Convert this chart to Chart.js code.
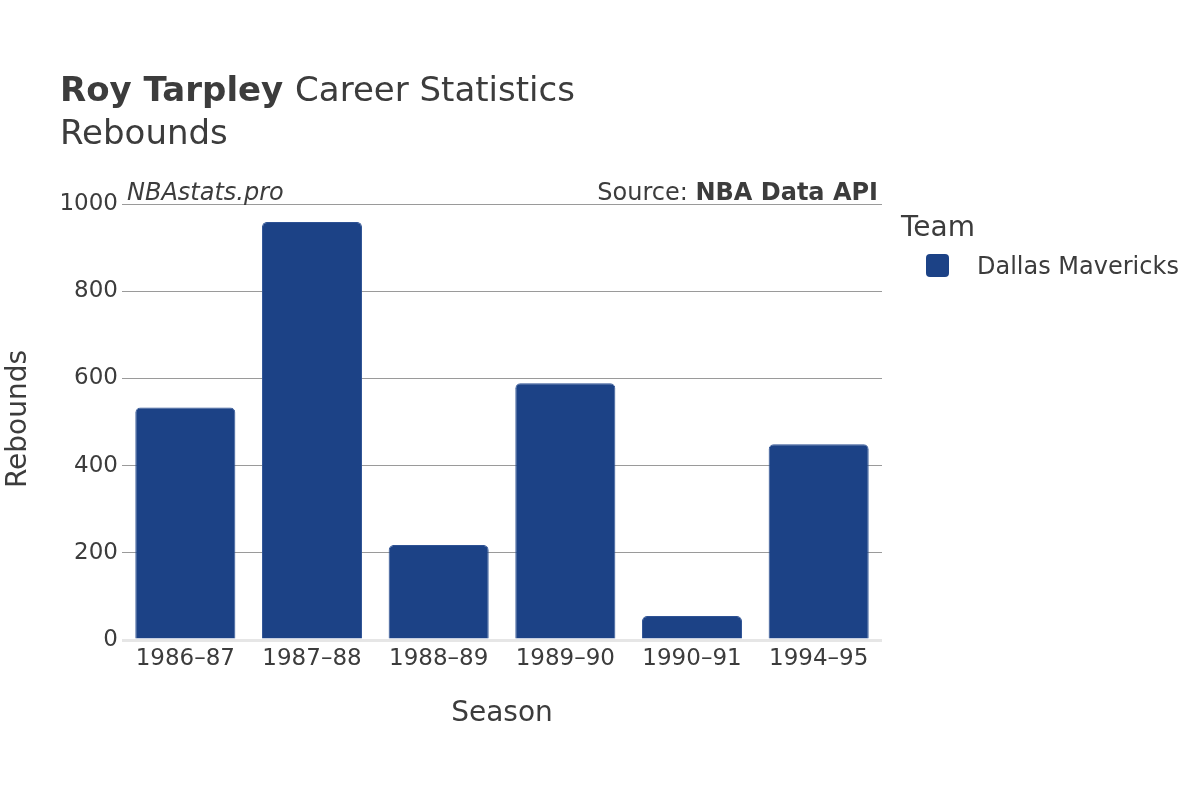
<!DOCTYPE html>
<html>
<head>
<meta charset="utf-8">
<script src="https://cdn.jsdelivr.net/npm/chart.js@4.4.0/dist/chart.umd.min.js"></script>
<style>
  html, body { margin: 0; padding: 0; background: #fff; }
  canvas { display: block; }
</style>
</head>
<body>
<canvas id="chart" width="1200" height="800"></canvas>
<script>
'use strict';

const seasons = ['1986–87', '1987–88', '1988–89', '1989–90', '1990–91', '1994–95'];
const rebounds = [533, 959, 218, 589, 55, 449];
const yTicks = [0, 200, 400, 600, 800, 1000];
const teamName = 'Dallas Mavericks';
const teamColor = '#1c4286';

const FONT = '"DejaVu Sans", sans-serif';
const TEXT = '#3c3c3c';

// titles, watermark, source, legend and axis titles
const decorations = {
  id: 'decorations',
  afterDraw(chart) {
    const ctx = chart.ctx;
    const area = chart.chartArea;
    ctx.save();
    ctx.fillStyle = TEXT;
    ctx.textBaseline = 'alphabetic';

    ctx.textAlign = 'left';
    ctx.font = 'bold 34px ' + FONT;
    ctx.fillText('Roy Tarpley', 60, 101);
    let w = ctx.measureText('Roy Tarpley ').width;
    ctx.font = '34px ' + FONT;
    ctx.fillText('Career Statistics', 60 + w, 101);
    ctx.fillText('Rebounds', 60, 144);

    ctx.font = 'italic 24px ' + FONT;
    ctx.fillText('NBAstats.pro', 127, 200);

    ctx.textAlign = 'right';
    ctx.font = 'bold 24px ' + FONT;
    ctx.fillText('NBA Data API', 878, 200);
    w = ctx.measureText('NBA Data API').width;
    ctx.font = '24px ' + FONT;
    ctx.fillText('Source: ', 878 - w, 200);

    // legend
    ctx.textAlign = 'left';
    ctx.font = '28px ' + FONT;
    ctx.fillText('Team', 901, 236);
    ctx.fillStyle = teamColor;
    ctx.beginPath();
    ctx.roundRect(926, 254, 23, 23, 4);
    ctx.fill();
    ctx.fillStyle = TEXT;
    ctx.font = '24px ' + FONT;
    ctx.fillText(teamName, 977, 274);

    // axis titles
    ctx.textAlign = 'center';
    ctx.font = '28px ' + FONT;
    ctx.fillText('Season', (area.left + area.right) / 2, 721);
    ctx.translate(26, 419);
    ctx.rotate(-Math.PI / 2);
    ctx.fillText('Rebounds', 0, 0);
    ctx.restore();
  }
};

new Chart(document.getElementById('chart').getContext('2d'), {
  type: 'bar',
  data: {
    labels: seasons,
    datasets: [{
      label: teamName,
      data: rebounds,
      backgroundColor: teamColor,
      borderColor: '#2e5294',
      borderWidth: 1,
      borderRadius: 5,
      barPercentage: 0.79,
      categoryPercentage: 1
    }]
  },
  options: {
    responsive: false,
    animation: false,
    layout: { padding: { left: 0, top: 204, right: 318, bottom: 0 } },
    plugins: {
      legend: { display: false },
      title: { display: false },
      tooltip: { enabled: false }
    },
    scales: {
      x: {
        grid: { display: false, drawTicks: false },
        border: { display: false },
        ticks: { color: TEXT, font: { family: FONT, size: 23 }, padding: 5, maxRotation: 0 },
        afterFit(scale) { scale.height = 160; }
      },
      y: {
        min: 0,
        max: 1000,
        afterBuildTicks(scale) { scale.ticks = yTicks.map(v => ({ value: v })); },
        grid: {
          drawTicks: false,
          color: c => c.tick && c.tick.value === 0 ? '#e6e6e6' : '#9a9a9a',
          lineWidth: c => c.tick && c.tick.value === 0 ? 3 : 1
        },
        border: { display: false },
        ticks: {
          color: TEXT,
          font: { family: FONT, size: 23 },
          padding: 4,
          callback: v => String(v)
        },
        afterFit(scale) { scale.width = 122; }
      }
    }
  },
  plugins: [decorations]
});
</script>
</body>
</html>
